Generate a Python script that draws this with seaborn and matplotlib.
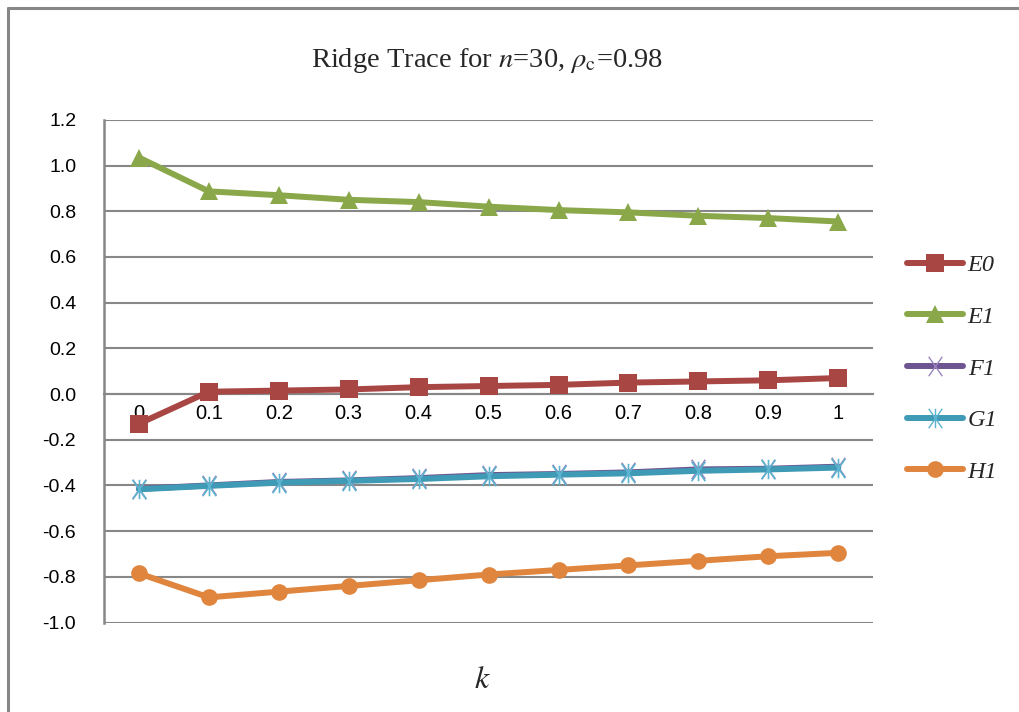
import numpy as np
import pandas as pd
import matplotlib
matplotlib.use("Agg")
import matplotlib.pyplot as plt
import seaborn as sns
from matplotlib.path import Path
from matplotlib.lines import Line2D

# ---- data ----
k_labels = ["0", "0.1", "0.2", "0.3", "0.4", "0.5", "0.6", "0.7", "0.8", "0.9", "1"]
E0 = [-0.13, 0.01, 0.015, 0.02, 0.03, 0.035, 0.04, 0.05, 0.055, 0.06, 0.07]
E1 = [1.035, 0.887, 0.87, 0.85, 0.84, 0.82, 0.805, 0.795, 0.78, 0.77, 0.755]
F1 = [-0.415, -0.40, -0.385, -0.378, -0.368, -0.355, -0.35, -0.343, -0.33, -0.327, -0.318]
G1 = [-0.417, -0.402, -0.388, -0.38, -0.372, -0.36, -0.353, -0.347, -0.336, -0.33, -0.322]
H1 = [-0.785, -0.89, -0.865, -0.84, -0.815, -0.79, -0.77, -0.75, -0.73, -0.71, -0.695]
series_names = ["E0", "E1", "F1", "G1", "H1"]
series_values = [E0, E1, F1, G1, H1]
y_ticks = [-1.0, -0.8, -0.6, -0.4, -0.2, 0.0, 0.2, 0.4, 0.6, 0.8, 1.0, 1.2]

title_text = r"Ridge Trace for $n$=30, $\rho_{\mathrm{c}}$=0.98"
xlabel_text = r"$k$"

# ---- styling ----
sns.set_theme(style="white")
plt.rcParams["font.family"] = ["Liberation Sans", "DejaVu Sans"]
plt.rcParams["mathtext.fontset"] = "stix"

line_colors = {"E0": "#A84644", "E1": "#8AA74A", "F1": "#6E5490", "G1": "#3F9AB5", "H1": "#E0853D"}
edge_colors = {"E0": "#A84644", "E1": "#8AA74A", "F1": "#9A84BE", "G1": "#5BB3CF", "H1": "#E0853D"}

x_path = Path([(-0.7, -1), (0.7, 1), (-0.7, 1), (0.7, -1)],
              [Path.MOVETO, Path.LINETO, Path.MOVETO, Path.LINETO])
star_path = Path([(0, -1), (0, 1), (-0.7, -1), (0.7, 1), (-0.7, 1), (0.7, -1)],
                 [Path.MOVETO, Path.LINETO, Path.MOVETO, Path.LINETO, Path.MOVETO, Path.LINETO])

markers = {"E0": ("s", 13, True), "E1": ("^", 13, True), "F1": (x_path, 14, False),
           "G1": (star_path, 14, False), "H1": ("o", 12, True)}

grid_color = "#878787"

fig = plt.figure(figsize=(10.19, 7.12), dpi=100)
ax = fig.add_axes([0.102, 0.1257, 0.755, 0.706])

xpos = np.arange(len(k_labels))
rows = []
for name, vals in zip(series_names, series_values):
    for xp, v in zip(xpos, vals):
        rows.append({"series": name, "x": xp, "value": v})
df = pd.DataFrame(rows)

for i, name in enumerate(series_names):
    sub = df[df["series"] == name]
    m, ms, filled = markers[name]
    kw = dict(marker=m, markersize=ms, markeredgecolor=edge_colors[name])
    if filled:
        kw.update(markerfacecolor=line_colors[name], markeredgewidth=0)
    else:
        kw.update(markerfacecolor="none", markeredgewidth=1.2)
    sns.lineplot(data=sub, x="x", y="value", ax=ax, color=line_colors[name],
                 linewidth=4.3, legend=False, zorder=3 + i, **kw)

ax.set_ylim(-1.0, 1.2)
ax.set_xlim(-0.5, len(k_labels) - 0.5)
ax.set_yticks(y_ticks)
ax.set_yticklabels([f"{t:.1f}" for t in y_ticks])
ax.yaxis.grid(True, color=grid_color, linewidth=1.5)
ax.set_axisbelow(True)

ax.set_xticks(xpos)
ax.set_xticklabels(k_labels)
ax.set_xticks(np.arange(-0.5, len(k_labels), 1.0), minor=True)
ax.tick_params(axis="x", which="major", length=0, pad=7, labelcolor="black", labelsize=14.5)
ax.tick_params(axis="x", which="minor", length=8, width=1.2, color=grid_color, direction="out")
ax.tick_params(axis="y", which="major", length=6, width=1.5, color=grid_color, direction="out",
               pad=14, labelcolor="black", labelsize=14)

for s in ["top", "right"]:
    ax.spines[s].set_visible(False)
ax.spines["bottom"].set_position(("data", 0))
ax.spines["bottom"].set_color(grid_color)
ax.spines["bottom"].set_linewidth(1.5)
ax.spines["left"].set_color(grid_color)
ax.spines["left"].set_linewidth(1.8)

ax.set_xlabel("")
ax.set_ylabel("")

fig.text(0.478, 0.915, title_text, ha="center", va="center", fontsize=20.5,
         family=["Liberation Serif", "DejaVu Serif"])
fig.text(0.473, 0.045, xlabel_text, ha="center", va="center", fontsize=23)

# legend
handles = []
for name in series_names:
    m, ms, filled = markers[name]
    if filled:
        h = Line2D([0], [0], color=line_colors[name], linewidth=4.3, marker=m, markersize=ms,
                   markerfacecolor=line_colors[name], markeredgewidth=0)
    else:
        h = Line2D([0], [0], color=line_colors[name], linewidth=4.3, marker=m, markersize=ms,
                   markerfacecolor="none", markeredgecolor=edge_colors[name], markeredgewidth=1.0)
    handles.append(h)
fig.legend(handles, series_names, loc="upper left", bbox_to_anchor=(0.890, 0.643),
           frameon=False, borderpad=0, borderaxespad=0, handlelength=2.3,
           handletextpad=0.2, labelspacing=1.22,
           prop={"family": "Liberation Serif", "style": "italic", "size": 17.5})

# outer chart frame (left and top edges)
fig.add_artist(Line2D([0.008, 0.008], [0.0, 0.989], transform=fig.transFigure,
                      color=grid_color, linewidth=2.2))
fig.add_artist(Line2D([0.008, 1.0], [0.989, 0.989], transform=fig.transFigure,
                      color=grid_color, linewidth=2.2))

fig.savefig("out.png", dpi=100)
